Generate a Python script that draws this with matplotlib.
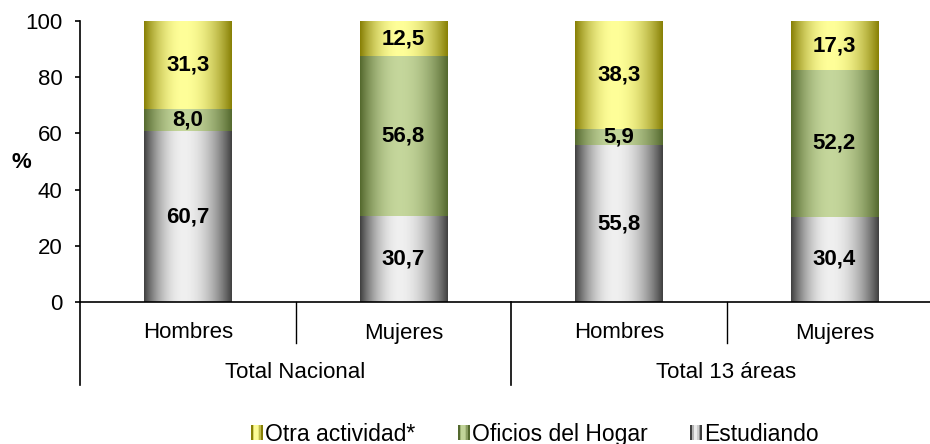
import numpy as np
import matplotlib
matplotlib.use('Agg')
import matplotlib.pyplot as plt
from matplotlib.legend_handler import HandlerBase
from matplotlib.patches import Rectangle

plt.rcParams['font.family'] = ['Liberation Sans', 'DejaVu Sans']

# datos
categorias = ['Hombres', 'Mujeres', 'Hombres', 'Mujeres']
grupos = ['Total Nacional', 'Total 13 áreas']
estudiando = [60.7, 30.7, 55.8, 30.4]
oficios = [8.0, 56.8, 5.9, 52.2]
otra = [31.3, 12.5, 38.3, 17.3]

series = [
    ('Estudiando', estudiando, (0.25, 0.25, 0.25), (0.94, 0.94, 0.94)),
    ('Oficios del Hogar', oficios, (0.33, 0.41, 0.18), (0.77, 0.84, 0.61)),
    ('Otra actividad*', otra, (0.53, 0.50, 0.02), (1.0, 1.0, 0.60)),
]


def degradado(oscuro, claro, n=200, pico=0.45):
    t = np.linspace(0, 1, n)
    d = np.where(t < pico, (pico - t) / pico, (t - pico) / (1 - pico))
    g = 1 - d ** 2
    oscuro = np.array(oscuro)
    claro = np.array(claro)
    img = oscuro[None, :] + (claro - oscuro)[None, :] * g[:, None]
    return img[None, :, :]


class HandlerFranjas(HandlerBase):
    # cuadrito de leyenda con franjas que imitan el degradado
    def create_artists(self, legend, orig_handle, xdescent, ydescent,
                       width, height, fontsize, trans):
        oscuro, claro = orig_handle
        cols = degradado(oscuro, claro, n=7, pico=0.4)[0]
        w = width / len(cols)
        return [Rectangle((-xdescent + i * w, -ydescent), w, height,
                          facecolor=c, edgecolor='none', transform=trans)
                for i, c in enumerate(cols)]


fig = plt.figure(figsize=(9.30, 4.44), dpi=100)
ax = fig.add_axes([80 / 930, (444 - 302) / 444, 862 / 930, 281 / 444])

fs = 16
x = np.arange(len(categorias))
ancho = 0.405
base = np.zeros(len(categorias))
for nombre, valores, oscuro, claro in series:
    barras = ax.bar(x, valores, ancho, bottom=base, facecolor='none',
                    edgecolor='none', linewidth=0)
    grad = degradado(oscuro, claro)
    for b, v in zip(barras, valores):
        x0, y0 = b.get_x(), b.get_y()
        im = ax.imshow(grad, extent=(x0, x0 + b.get_width(), y0, y0 + b.get_height()),
                       aspect='auto', interpolation='bilinear', zorder=1)
        im.set_clip_path(b)
        ax.text(x0 + b.get_width() / 2, y0 + b.get_height() / 2,
                f'{v:.1f}'.replace('.', ','), ha='center', va='center',
                fontsize=fs, fontweight='bold', zorder=3)
    base = base + np.array(valores)

ax.set_xlim(-0.5, 3.5)
ax.set_ylim(0, 100)
ax.set_yticks([0, 20, 40, 60, 80, 100])
ax.tick_params(axis='y', direction='out', length=3.5, width=1.2, labelsize=fs, pad=9)
ax.set_xticks([])
for s in ['top', 'right']:
    ax.spines[s].set_visible(False)
ax.spines['left'].set_linewidth(1.2)
ax.spines['bottom'].set_linewidth(1.2)
ax.spines['bottom'].set_zorder(4)

h = 281
# separadores de categorías
for xs in [0.5, 2.5]:
    ax.plot([xs, xs], [0, -41 / h], transform=ax.get_xaxis_transform(),
            color='black', lw=1.0, clip_on=False)
for xs in [-0.5, 1.5]:
    ax.plot([xs, xs], [0, -83 / h], transform=ax.get_xaxis_transform(),
            color='black', lw=1.2, clip_on=False)

for xi, cat in zip(x, categorias):
    ax.text(xi, -31 / h, cat, transform=ax.get_xaxis_transform(),
            ha='center', va='center', fontsize=fs)
for i, g in enumerate(grupos):
    ax.text(2 * i + 0.5, -71 / h, g, transform=ax.get_xaxis_transform(),
            ha='center', va='center', fontsize=fs)

fig.text(21 / 930, (444 - 162) / 444, '%', ha='center', va='center',
         fontsize=fs, fontweight='bold')

orden = [series[2], series[1], series[0]]
handles = [(s[2], s[3]) for s in orden]
etiquetas = [s[0] for s in orden]
fig.legend(handles, etiquetas, handler_map={tuple: HandlerFranjas()},
           loc='center', bbox_to_anchor=(535 / 930, 10 / 444), ncol=3,
           frameon=False, fontsize=16.5, handlelength=0.52, handleheight=0.6,
           handletextpad=0.1, columnspacing=1.85, borderpad=0.1)

fig.savefig('out.png', dpi=100)
